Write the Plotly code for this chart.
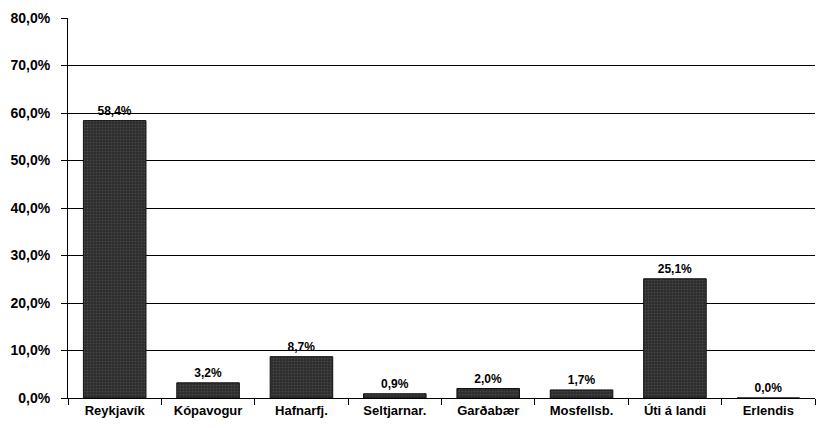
import plotly.graph_objects as go

categories = ["Reykjavík", "Kópavogur", "Hafnarfj.", "Seltjarnar.", "Garðabær", "Mosfellsb.", "Úti á landi", "Erlendis"]
values = [58.4, 3.2, 8.7, 0.9, 2.0, 1.7, 25.1, 0.0]
y_ticks = [0, 10, 20, 30, 40, 50, 60, 70, 80]

fig = go.Figure(go.Bar(
    x=categories, y=values,
    marker=dict(color="#2e2e2e", line=dict(color="#111111", width=1),
                pattern=dict(shape=".", fgcolor="#666666", size=3, solidity=0.25)),
    text=[f"{v:.1f}%".replace(".", ",") for v in values],
    textposition="outside",
    textfont=dict(family="Arial, Liberation Sans", size=12, color="black", weight="bold"),
    cliponaxis=False,
))

fig.update_layout(
    width=821, height=420,
    margin=dict(l=60, r=14, t=10, b=30, autoexpand=False),
    paper_bgcolor="white", plot_bgcolor="white",
    bargap=0.33,
    showlegend=False,
    font=dict(family="Arial, Liberation Sans", color="black"),
)
fig.update_yaxes(
    range=[0, 80], tickvals=y_ticks,
    ticktext=[f"{v:.1f}%".replace(".", ",") for v in y_ticks],
    showgrid=True, gridcolor="black", gridwidth=1,
    showline=True, linecolor="black", linewidth=1,
    ticks="outside", ticklen=6, tickcolor="black",
    tickfont=dict(size=14, weight="bold"),
    ticklabelstandoff=8,
    zeroline=False, automargin=False,
)
fig.update_xaxes(
    showline=True, linecolor="black", linewidth=1,
    ticks="outside", tickson="boundaries", ticklen=6, tickcolor="black",
    tickfont=dict(size=13, weight="bold"),
    showgrid=False, automargin=False,
)
fig.write_html("out.html")
